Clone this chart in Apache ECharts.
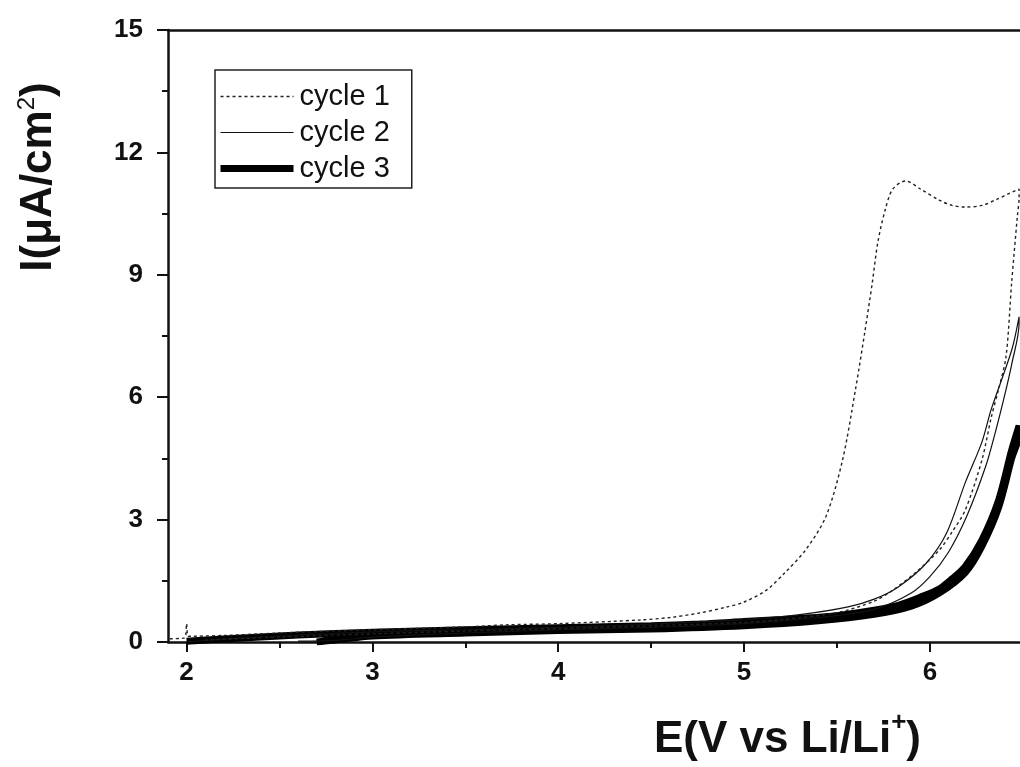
<!DOCTYPE html>
<html>
<head>
<meta charset="utf-8">
<script src="https://cdn.jsdelivr.net/npm/echarts@6/dist/echarts.min.js"></script>
<style>html,body{margin:0;padding:0;background:#fff}#main{width:1020px;height:767px}</style>
</head>
<body>
<div id="main"></div>
<script>
// ---- data (E in V vs Li/Li+, I in µA/cm2), each cycle drawn as forward then reverse scan ----
const seriesNames = ['cycle 1', 'cycle 2', 'cycle 3'];
const xTickValues = [2, 3, 4, 5, 6];
const xMinorTickValues = [2.5, 3.5, 4.5, 5.5];
const yTickInterval = 3;

const cycle1 = [
  [1.91,0.08],[1.99,0.1],[2.0,0.45],[2.01,0.14],[2.2,0.16],[2.5,0.22],[3.0,0.3],[3.5,0.37],
  [3.72,0.42],[4.0,0.45],[4.44,0.54],[4.6,0.6],[4.76,0.71],[4.9,0.85],[5.0,0.98],[5.12,1.27],
  [5.22,1.7],[5.33,2.25],[5.44,3.07],[5.53,4.46],[5.6,6.2],[5.65,7.6],[5.69,8.8],[5.72,9.8],
  [5.76,10.6],[5.8,11.1],[5.87,11.3],[5.95,11.1],[6.05,10.83],[6.12,10.7],[6.19,10.66],
  [6.28,10.7],[6.36,10.85],[6.43,11.0],[6.48,11.1],
  [6.48,10.9],[6.47,10.4],[6.44,8.8],[6.41,7.0],[6.37,6.2],[6.33,5.5],[6.28,4.46],[6.19,3.23],
  [6.12,2.7],[6.05,2.25],[5.92,1.69],[5.8,1.27],[5.7,1.0],[5.5,0.72],[5.2,0.55],[5.0,0.48],
  [4.5,0.4],[4.0,0.33],[3.5,0.27],[3.0,0.2],[2.5,0.12],[2.1,0.05]
];
const cycle2 = [
  [2.0,0.0],[2.3,0.1],[2.6,0.17],[3.0,0.25],[3.5,0.3],[4.0,0.36],[4.5,0.44],[5.0,0.55],
  [5.3,0.67],[5.56,0.86],[5.7,1.05],[5.83,1.35],[5.98,1.93],[6.09,2.67],[6.19,3.9],[6.28,4.9],
  [6.33,5.7],[6.44,7.15],[6.48,7.97],
  [6.48,7.8],[6.44,6.8],[6.4,6.0],[6.35,5.1],[6.3,4.3],[6.2,3.1],[6.1,2.2],[6.0,1.6],[5.9,1.2],
  [5.7,0.8],[5.4,0.6],[5.0,0.45],[4.5,0.36],[4.0,0.3],[3.5,0.22],[3.0,0.12],[2.8,0.04],[2.6,0.02]
];
const cycle3 = [
  [2.0,0.02],[2.3,0.1],[2.6,0.17],[3.0,0.24],[3.5,0.3],[4.0,0.35],[4.5,0.4],[4.76,0.44],
  [5.0,0.5],[5.2,0.55],[5.47,0.63],[5.7,0.78],[5.83,0.9],[5.95,1.1],[6.05,1.3],[6.12,1.55],
  [6.19,1.85],[6.28,2.5],[6.37,3.48],[6.44,4.7],[6.48,5.3],
  [6.48,5.1],[6.44,4.5],[6.37,3.3],[6.28,2.35],[6.19,1.7],[6.05,1.2],[5.9,0.88],[5.7,0.68],
  [5.4,0.52],[5.0,0.4],[4.5,0.32],[4.0,0.28],[3.5,0.22],[3.0,0.15],[2.8,0.05],[2.7,0.0]
];

const FONT = '"Liberation Sans", Arial, sans-serif';
const INK = '#111';
const chart = echarts.init(document.getElementById('main'), null, {renderer: 'canvas'});

const lineStyles = [
  {color: '#222', width: 1.4, type: [3, 3]},
  {color: '#111', width: 1.2, type: 'solid'},
  {color: '#000', width: 7, type: 'solid'}
];
const allData = [cycle1, cycle2, cycle3];

chart.setOption({
  animation: false,
  backgroundColor: '#fff',
  grid: {left: 168, top: 30, right: 0, bottom: 125, containLabel: false},
  legend: {
    show: true,
    orient: 'vertical', left: 215, top: 70,
    padding: [12, 22, 5, 2],
    borderColor: '#222', borderWidth: 1.5,
    itemWidth: 73, itemHeight: 20, itemGap: 7,
    textStyle: {fontFamily: FONT, fontSize: 29, color: INK, padding: [0, 0, 0, 1]},
    data: seriesNames.map((n, i) => ({
      name: n,
      itemStyle: {opacity: 0},
      lineStyle: {width: lineStyles[i].width, type: lineStyles[i].type, color: lineStyles[i].color}
    }))
  },
  xAxis: [
    {
      type: 'value', min: 1.9, max: 6.485, position: 'bottom',
      axisLine: {lineStyle: {color: INK, width: 2.5}},
      axisTick: {show: true, inside: false, length: 10, lineStyle: {width: 2, color: INK}, customValues: xTickValues},
      axisLabel: {customValues: xTickValues, margin: 18, fontFamily: FONT, fontSize: 26, fontWeight: 'bold', color: INK},
      splitLine: {show: false}
    },
    {
      type: 'value', min: 1.9, max: 6.485, position: 'bottom',
      axisLine: {show: false},
      axisTick: {show: true, inside: false, length: 6, lineStyle: {width: 2, color: INK}, customValues: xMinorTickValues},
      axisLabel: {show: false},
      splitLine: {show: false}
    },
    {
      type: 'value', min: 1.9, max: 6.485, position: 'top',
      axisLine: {lineStyle: {color: INK, width: 2.5}},
      axisTick: {show: false}, axisLabel: {show: false}, splitLine: {show: false}
    }
  ],
  yAxis: {
    type: 'value', min: 0, max: 15, interval: yTickInterval,
    axisLine: {show: true, lineStyle: {color: INK, width: 2.5}},
    axisTick: {show: true, inside: false, length: 11, lineStyle: {width: 2, color: INK}},
    minorTick: {show: true, splitNumber: 2, length: 6, lineStyle: {width: 2, color: INK}},
    axisLabel: {margin: 25, fontFamily: FONT, fontSize: 26, fontWeight: 'bold', color: INK},
    splitLine: {show: false}
  },
  series: seriesNames.map((n, i) => ({
    name: n, type: 'line', xAxisIndex: 0, data: allData[i],
    showSymbol: false, symbol: 'none', smooth: 0.3,
    lineStyle: lineStyles[i], itemStyle: {color: lineStyles[i].color}, z: 3 - i
  })),
  graphic: [
    {
      type: 'text', left: 654, top: 710,
      style: {
        text: '{m|E(V vs Li/Li}{s|+}{m|)}',
        rich: {
          m: {fontFamily: FONT, fontSize: 44, fontWeight: 'bold', fill: INK},
          s: {fontFamily: FONT, fontSize: 26, fontWeight: 'bold', fill: INK, padding: [0, 0, 34, 0]}
        }
      }
    },
    {
      type: 'text', x: 39, y: 177, rotation: Math.PI / 2,
      style: {
        text: '{m|I(μA/cm}{s|2}{m|)}',
        align: 'center', verticalAlign: 'middle',
        rich: {
          m: {fontFamily: FONT, fontSize: 44, fontWeight: 'bold', fill: INK},
          s: {fontFamily: FONT, fontSize: 24, fill: INK, padding: [0, 0, 24, 0]}
        }
      }
    }
  ]
});
</script>
</body>
</html>
